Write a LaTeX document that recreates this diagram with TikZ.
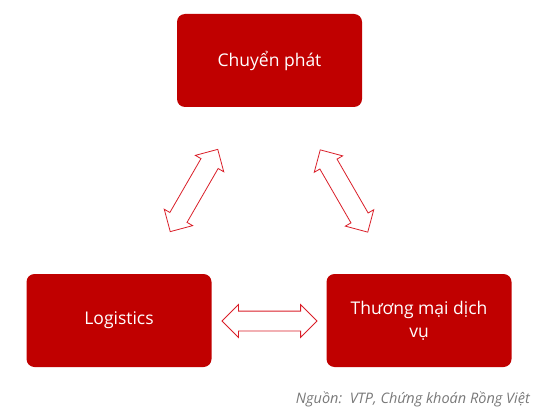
\documentclass[tikz,border=0pt]{standalone}
\usepackage{fontspec}
\setmainfont{Open Sans}
\usetikzlibrary{shapes.arrows}
\definecolor{boxred}{RGB}{192,0,0}
\definecolor{arrowred}{RGB}{218,30,40}
\definecolor{srcgray}{RGB}{120,120,120}
\tikzset{
  redbox/.style={draw=none, fill=boxred, rounded corners=8pt, minimum width=185pt, minimum height=93pt,
    text=white, font=\fontsize{17.5}{23}\selectfont, align=center, inner sep=0pt},
  dblarrow/.style={double arrow, draw=arrowred, fill=white, line width=0.8pt, minimum height=95pt,
    inner xsep=0pt, inner ysep=9.5pt, double arrow head extend=6.5pt, double arrow tip angle=90}
}
\begin{document}
\begin{tikzpicture}[x=1pt,y=-1pt]
\useasboundingbox (0,0) rectangle (543,414);
\node[redbox] (top) at (269.5,60.5) {Chuyển phát};
\node[redbox] (left) at (119,320.5) {Logistics};
\node[redbox] (right) at (419,320.5) {Thương mại dịch\\vụ};
\node[dblarrow] (a1) at (269.5,321) {};
\node[dblarrow, rotate=60] (a2) at (194,190.5) {};
\node[dblarrow, rotate=-60] (a3) at (344,191) {};
\node[anchor=base east, inner sep=0pt, text=srcgray, font=\itshape\fontsize{14.5}{17}\selectfont] (src) at (530,403) {Nguồn:\ \ VTP, Chứng khoán Rồng Việt};
\end{tikzpicture}
\end{document}
